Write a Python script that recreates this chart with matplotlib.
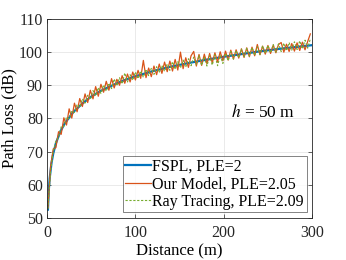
import numpy as np
import matplotlib
matplotlib.use("Agg")
import matplotlib.pyplot as plt

plt.rcParams['font.family'] = ['Liberation Serif', 'DejaVu Serif']
plt.rcParams['mathtext.fontset'] = 'stix'

# FSPL (PLE = 2), read at a few distances
fspl_d = [1, 2, 3, 5, 7, 10, 15, 20, 30, 40, 50, 60, 70, 80, 90, 100, 120, 140,
          160, 180, 200, 220, 240, 260, 280, 300]
fspl_pl = [52.5, 58.5, 62.0, 66.5, 69.4, 72.5, 76.0, 78.5, 82.0, 84.5, 86.6, 88.2,
           89.5, 90.7, 91.8, 92.7, 94.3, 95.6, 96.7, 97.7, 98.6, 99.4, 100.2,
           100.9, 101.5, 102.1]

# distances for the measured / simulated series
dist = [1, 4, 7, 10, 13, 16, 19, 22, 25, 28, 31, 34, 37, 40, 43, 46, 49, 52, 55, 58,
        61, 64, 67, 70, 73, 76, 79, 82, 85, 88, 91, 94, 97, 100, 103, 106, 109, 112,
        115, 118, 121, 124, 127, 130, 133, 136, 139, 142, 145, 148, 151, 154, 157,
        160, 163, 166, 169, 172, 175, 178, 181, 184, 187, 190, 193, 196, 199, 202,
        205, 208, 211, 214, 217, 220, 223, 226, 229, 232, 235, 238, 241, 244, 247,
        250, 253, 256, 259, 262, 265, 268, 271, 274, 277, 280, 283, 286, 289, 292,
        295, 298]

our_model = [53.0, 65.5, 70.8, 71.2, 76.0, 75.2, 80.2, 78.0, 82.9, 80.1, 84.6, 82.0,
             86.0, 83.6, 87.4, 84.8, 88.5, 85.9, 89.6, 86.7, 90.3, 87.9, 91.2, 88.5,
             92.0, 89.2, 91.8, 90.0, 92.9, 90.6, 93.4, 91.0, 94.0, 91.6, 94.5, 92.1,
             97.5, 92.3, 95.2, 92.6, 95.8, 93.2, 96.4, 93.6, 97.0, 94.1, 97.3, 94.3,
             97.8, 94.6, 100.0, 95.0, 98.3, 95.4, 98.9, 100.2, 95.8, 99.3, 96.0, 99.4,
             96.5, 99.6, 96.8, 99.8, 97.0, 100.1, 97.4, 100.3, 97.6, 100.6, 97.9,
             100.7, 98.2, 101.0, 98.4, 101.3, 98.6, 101.5, 98.9, 102.3, 99.2, 101.8,
             99.4, 102.0, 99.6, 102.1, 99.8, 102.3, 102.9, 100.0, 102.4, 100.2, 102.6,
             100.3, 102.8, 100.5, 103.0, 100.7, 103.2, 105.5]

ray_tracing = [52.8, 64.0, 70.0, 73.2, 74.2, 77.5, 77.6, 80.4, 79.9, 82.3, 81.8, 84.2,
               83.3, 85.9, 84.6, 87.0, 85.7, 88.4, 86.8, 89.3, 87.5, 90.1, 88.2, 90.6,
               89.0, 91.9, 89.8, 92.3, 90.4, 93.7, 91.0, 93.2, 91.5, 94.0, 92.0, 94.3,
               92.4, 94.8, 92.9, 95.1, 93.3, 95.6, 93.8, 96.0, 94.2, 96.4, 94.5, 97.1,
               94.8, 97.3, 95.2, 97.6, 95.5, 98.0, 95.9, 98.5, 96.2, 99.0, 96.0, 98.6,
               95.8, 98.9, 96.1, 99.2, 95.9, 99.0, 96.6, 99.6, 97.4, 100.2, 97.9, 100.5,
               98.3, 100.9, 98.6, 101.1, 98.8, 101.4, 99.0, 101.6, 99.3, 101.9, 99.6,
               102.0, 99.8, 102.3, 100.0, 102.5, 100.2, 102.7, 100.4, 102.9, 100.6,
               103.1, 100.8, 103.4, 101.0, 103.6, 101.2, 104.0]

fig = plt.figure(figsize=(3.46, 2.6), dpi=100)
ax = fig.add_axes([0.136, 0.162, 0.766, 0.765])

ax.plot(fspl_d, fspl_pl, color='#0072BD', lw=1.6, label='FSPL, PLE=2')
ax.plot(dist, our_model, color='#D95319', lw=0.9, label='Our Model, PLE=2.05')
ax.plot(dist, ray_tracing, color='#77AC30', lw=0.8, linestyle=(0, (2, 1.5)),
        label='Ray Tracing, PLE=2.09')

ax.set_xlim(0, 300)
ax.set_ylim(50, 110)
ax.set_xticks([0, 100, 200, 300])
ax.set_yticks(range(50, 111, 10))
ax.grid(True, color='#e6e6e6', lw=0.6)
ax.set_axisbelow(True)
ax.tick_params(direction='in', top=True, right=True, labelsize=11.5, length=3,
               width=0.5, colors='#262626', pad=3)
ax.tick_params(axis='x', pad=5)
for s in ax.spines.values():
    s.set_linewidth(0.6)
    s.set_color('#262626')

ax.set_xlabel('Distance (m)', fontsize=12, labelpad=2)
ax.set_ylabel('Path Loss (dB)', fontsize=12, labelpad=1)
ax.text(0.936, 0.53, r'$h$ = 50 m', transform=ax.transAxes, fontsize=12.5,
        ha='right', va='center')

leg = ax.legend(loc='lower right', fontsize=11.5, frameon=True, fancybox=False,
                handlelength=1.6, handletextpad=0.1, borderpad=0.15, labelspacing=0.1,
                borderaxespad=0.35)
leg.get_frame().set_edgecolor('#262626')
leg.get_frame().set_linewidth(0.5)

fig.savefig('out.png', dpi=100)
